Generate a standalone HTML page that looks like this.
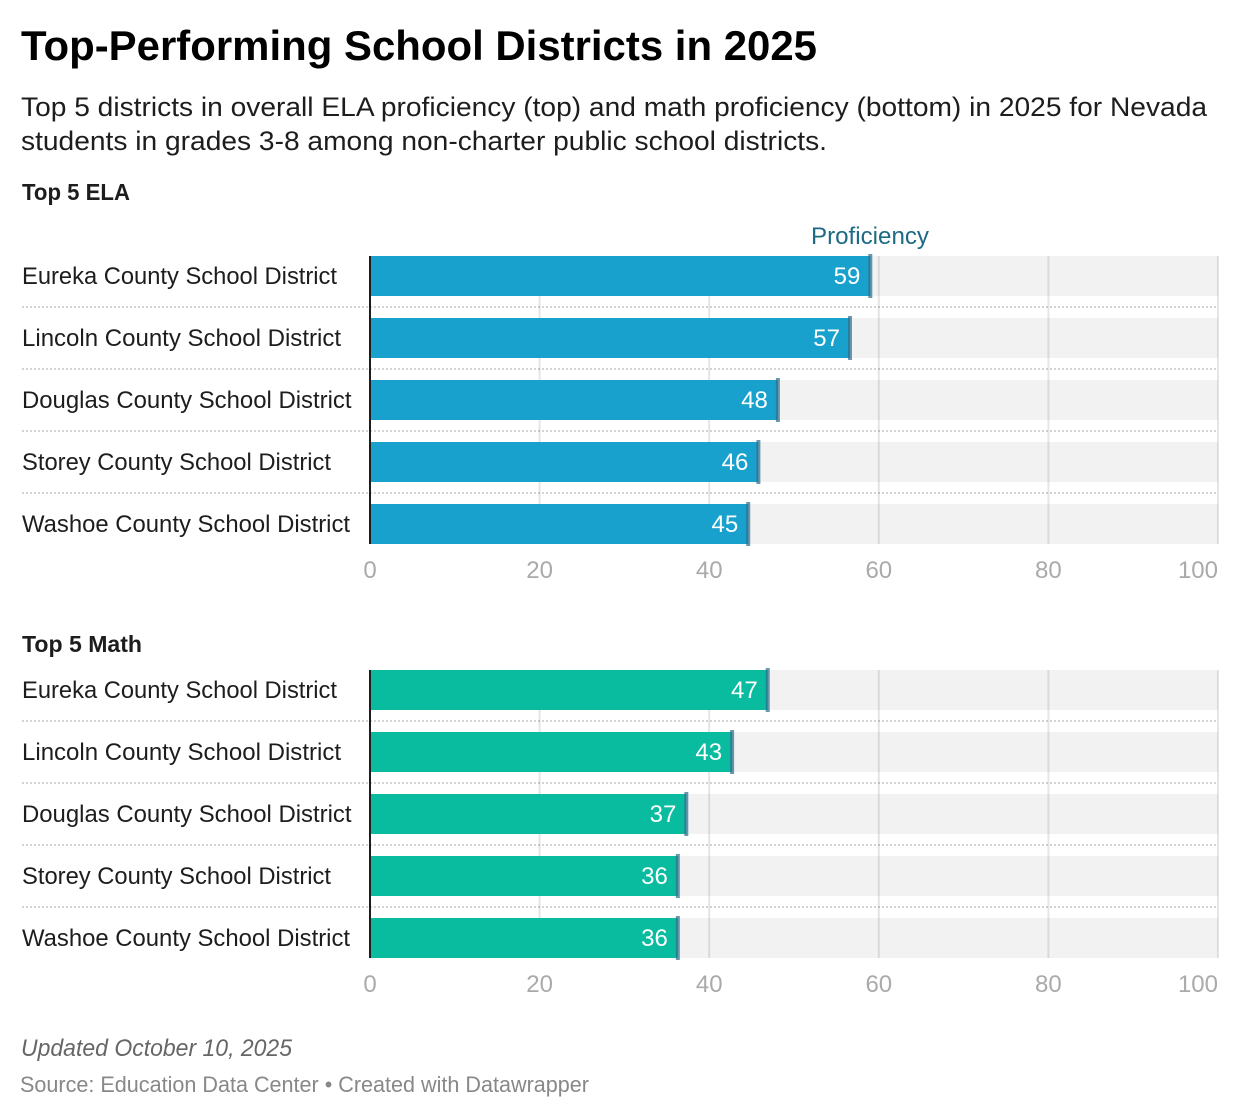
<!DOCTYPE html>
<html lang="en">
<head>
<meta charset="utf-8">
<title>Top-Performing School Districts in 2025</title>
<style>
html,body{margin:0;padding:0;background:#fff;width:1240px;height:1118px;overflow:hidden}
svg{display:block}
text{font-family:"Liberation Sans",Arial,sans-serif}
</style>
</head>
<body>
<svg id="chart" xmlns="http://www.w3.org/2000/svg" width="1240" height="1118" viewBox="0 0 1240 1118">
  <text x="21" y="60" font-size="42" font-weight="700" fill="#000" textLength="796" lengthAdjust="spacingAndGlyphs">Top-Performing School Districts in 2025</text>
  <text x="21" y="116" font-size="27" fill="#1d1d1d" textLength="1186" lengthAdjust="spacingAndGlyphs">Top 5 districts in overall ELA proficiency (top) and math proficiency (bottom) in 2025 for Nevada</text>
  <text x="21" y="150" font-size="27" fill="#1d1d1d" textLength="806" lengthAdjust="spacingAndGlyphs">students in grades 3-8 among non-charter public school districts.</text>
  <text x="22" y="200" font-size="23.5" font-weight="700" fill="#1d1d1d" textLength="108" lengthAdjust="spacingAndGlyphs">Top 5 ELA</text>
  <text x="811" y="244" font-size="24" fill="#1d6a85" textLength="118" lengthAdjust="spacingAndGlyphs">Proficiency</text>
  <text x="22" y="652" font-size="23.5" font-weight="700" fill="#1d1d1d" textLength="120" lengthAdjust="spacingAndGlyphs">Top 5 Math</text>
  <g id="ela-panel"></g>
  <g id="math-panel"></g>
  <text x="21" y="1056" font-size="24" font-style="italic" fill="#666" textLength="271" lengthAdjust="spacingAndGlyphs">Updated October 10, 2025</text>
  <text x="20" y="1092" font-size="22" fill="#888" textLength="569" lengthAdjust="spacingAndGlyphs">Source: Education Data Center • Created with Datawrapper</text>
</svg>
<script>
var categories = ['Eureka County School District', 'Lincoln County School District', 'Douglas County School District', 'Storey County School District', 'Washoe County School District'];
var elaValues = [59.0, 56.6, 48.1, 45.8, 44.6];
var mathValues = [46.9, 42.7, 37.3, 36.3, 36.3];
var axisTicks = [0, 20, 40, 60, 80, 100];

var NS = 'http://www.w3.org/2000/svg';
var X0 = 370, PLOT_W = 848, DOMAIN_MAX = 100;
var ROW_STEP = 62, BAR_H = 40;
function xScale(v) { return X0 + v / DOMAIN_MAX * PLOT_W; }
function rowTop(top, i) { return top + i * ROW_STEP; }

function labelFit(name) {
  if (name.indexOf('Eureka') === 0) return 315;
  if (name.indexOf('Lincoln') === 0) return 319;
  if (name.indexOf('Douglas') === 0) return 329.5;
  if (name.indexOf('Storey') === 0) return 309;
  if (name.indexOf('Washoe') === 0) return 328;
  return 0;
}

function make(tag, attrs, parent, txt) {
  var el = document.createElementNS(NS, tag);
  for (var k in attrs) el.setAttribute(k, attrs[k]);
  if (txt !== undefined) el.textContent = txt;
  parent.appendChild(el);
  return el;
}

function drawPanel(group, values, top, color, prefix) {
  var n = categories.length;
  var bottom = rowTop(top, n - 1) + BAR_H;
  var i, el;

  for (i = 0; i < n; i++) {
    el = make('rect', {x: X0, y: rowTop(top, i), width: PLOT_W, height: BAR_H, fill: '#f2f2f2'}, group);
    
    
  }
  for (i = 0; i < n - 1; i++) {
    var sy = rowTop(top, i) + BAR_H + 11;
    el = make('line', {x1: 22, x2: 1218, y1: sy, y2: sy, stroke: '#d4d4d4', 'stroke-width': 2, 'stroke-dasharray': '2 2'}, group);
    
    
  }
  axisTicks.forEach(function (t) {
    if (t === 0) return;
    var gx = Math.min(xScale(t), 1218);
    el = make('line', {x1: gx, x2: gx, y1: top, y2: bottom, stroke: 'rgba(0,0,0,0.1)', 'stroke-width': 2}, group);
    
    
  });
  axisTicks.forEach(function (t) {
    var last = t === axisTicks[axisTicks.length - 1];
    el = make('text', {x: xScale(t), y: bottom + 34, 'font-size': 24, fill: '#aaa', 'text-anchor': last ? 'end' : 'middle'}, group, String(t));
    
    
  });
  categories.forEach(function (c, j) {
    var y = rowTop(top, j);
    var v = values[j];
    var label = make('text', {x: 22, y: y + 28, 'font-size': 24, fill: '#1d1d1d'}, group, c);
    
    
    var fit = labelFit(c);
    if (fit > 0) {
      label.setAttribute('textLength', fit);
      label.setAttribute('lengthAdjust', 'spacingAndGlyphs');
    }
    var bar = make('rect', {x: X0, y: y, width: xScale(v) - X0, height: BAR_H, fill: color}, group);
    
    
    var marker = make('rect', {x: xScale(v) - 2, y: y - 2, width: 4, height: BAR_H + 4, fill: '#2f6f8c', 'fill-opacity': 0.72}, group);
    
    
    var val = make('text', {x: xScale(v) - 10, y: y + 28, 'font-size': 24, fill: '#fff', 'text-anchor': 'end'}, group, String(Math.round(v)));
    
    
  });
  el = make('rect', {x: X0 - 1, y: top, width: 2, height: bottom - top, fill: '#1d1d1d'}, group);
  
  
}

drawPanel(document.getElementById('ela-panel'), elaValues, 256, '#18a1cd', 'ela');
drawPanel(document.getElementById('math-panel'), mathValues, 670, '#09bb9f', 'math');
</script>
</body>
</html>
